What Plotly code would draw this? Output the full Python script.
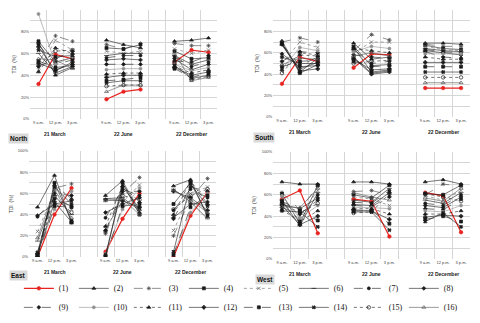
import plotly.graph_objects as go

# x slots: 0-2 = 21 March, 4-6 = 22 June, 8-10 = 22 December (3 and 7 blank)
times = ["9 a.m.", "12 p.m.", "3 p.m."]
dates = ["21 March", "22 June", "22 December"]
series_names = [f"({i})" for i in range(1, 17)]

# TDI (%) per series, [9 a.m., 12 p.m., 3 p.m.]
north_mar = [[32, 59, 55], [70, 40, 47], [52, 76, 71], [71, 52, 56], [45, 72, 63], [60, 42, 48],
             [68, 50, 54], [51, 45, 50], [48, 55, 62], [96, 50, 57], [43, 65, 60], [66, 44, 52],
             [53, 47, 49], [63, 57, 58], [49, 62, 63], [55, 54, 46]]
north_jun = [[18, 25, 27], [72, 68, 65], [68, 64, 69], [65, 64, 68], [62, 60, 62], [58, 60, 60],
             [56, 58, 58], [54, 55, 54], [50, 50, 50], [45, 46, 46], [41, 42, 42], [38, 40, 40],
             [35, 36, 38], [33, 35, 35], [30, 31, 31], [25, 31, 31]]
north_dec = [[52, 63, 61], [71, 72, 74], [69, 67, 67], [62, 55, 56], [64, 60, 63], [58, 50, 54],
             [57, 48, 52], [55, 45, 50], [53, 52, 58], [50, 44, 47], [48, 42, 45], [47, 40, 43],
             [46, 38, 42], [49, 37, 40], [51, 36, 39], [60, 35, 38]]

south_mar = [[31, 56, 52], [71, 42, 55], [70, 74, 70], [69, 41, 49], [50, 70, 65], [67, 45, 51],
             [68, 48, 56], [59, 47, 48], [52, 61, 60], [45, 65, 62], [44, 58, 57], [68, 43, 45],
             [47, 52, 53], [56, 50, 50], [41, 60, 58], [49, 55, 54]]
south_jun = [[46, 59, 58], [69, 54, 56], [62, 77, 72], [65, 42, 44], [60, 70, 70], [56, 41, 43],
             [63, 50, 52], [55, 40, 42], [58, 56, 55], [61, 66, 64], [64, 62, 60], [54, 44, 45],
             [52, 47, 48], [66, 48, 49], [50, 52, 53], [57, 60, 57]]
south_dec = [[27, 27, 27], [69, 69, 68], [68, 66, 66], [67, 64, 63], [66, 63, 62], [64, 62, 61],
             [63, 61, 60], [62, 60, 58], [61, 56, 55], [59, 59, 59], [56, 54, 54], [51, 51, 51],
             [47, 47, 47], [42, 42, 42], [37, 37, 37], [32, 32, 32]]

east_mar = [[0, 40, 65], [47, 77, 32], [2, 65, 69], [0, 70, 34], [24, 62, 45], [15, 58, 40],
            [38, 55, 48], [39, 50, 53], [3, 60, 58], [5, 45, 62], [1, 68, 55], [2, 52, 33],
            [0, 48, 47], [4, 66, 50], [3, 57, 42], [18, 63, 37]]
east_jun = [[5, 36, 60], [58, 72, 42], [22, 60, 75], [0, 70, 40], [27, 52, 68], [55, 56, 44],
            [37, 64, 58], [42, 50, 56], [25, 62, 62], [3, 45, 65], [29, 67, 52], [54, 53, 47],
            [1, 48, 50], [2, 66, 46], [24, 58, 54], [53, 55, 40]]
east_dec = [[0, 39, 61], [67, 73, 38], [20, 55, 74], [50, 70, 40], [25, 60, 66], [64, 52, 36],
            [44, 64, 56], [37, 50, 52], [36, 66, 62], [3, 42, 60], [40, 72, 50], [62, 56, 44],
            [2, 47, 58], [5, 69, 48], [45, 58, 64], [63, 54, 42]]

west_mar = [[56, 64, 24], [72, 70, 70], [62, 46, 68], [61, 33, 69], [57, 40, 64], [55, 31, 62],
            [53, 36, 60], [51, 47, 57], [48, 42, 55], [59, 38, 50], [46, 35, 45], [50, 32, 40],
            [54, 45, 36], [45, 44, 30], [52, 43, 52], [49, 48, 66]]
west_jun = [[56, 54, 21], [72, 72, 70], [63, 64, 60], [60, 57, 69], [58, 56, 50], [55, 53, 66],
            [53, 52, 64], [51, 50, 62], [50, 49, 58], [48, 48, 47], [47, 47, 42], [46, 45, 37],
            [45, 45, 33], [44, 44, 27], [43, 44, 61], [62, 58, 55]]
west_dec = [[62, 59, 25], [72, 74, 70], [60, 70, 68], [61, 60, 69], [59, 55, 64], [55, 52, 62],
            [52, 50, 60], [50, 48, 58], [47, 46, 56], [45, 44, 50], [42, 42, 45], [39, 41, 40],
            [37, 40, 35], [35, 43, 30], [61, 58, 54], [57, 54, 66]]

# line style per series: (color, dash, marker symbol, marker size)
styles = [
    ("#e8231f", "solid", "circle", 3.5),
    ("#1a1a1a", "solid", "triangle-up", 3.5),
    ("#444444", "dash", "asterisk-open", 3.5),
    ("#1a1a1a", "solid", "square", 3),
    ("#666666", "dot", "x-thin-open", 3.5),
    ("#1a1a1a", "solid", "line-ew-open", 3.5),
    ("#1a1a1a", "dash", "circle", 3),
    ("#1a1a1a", "solid", "diamond", 3),
    ("#1a1a1a", "dash", "diamond", 3),
    ("#909090", "solid", "circle", 3),
    ("#1a1a1a", "dot", "triangle-up", 3.5),
    ("#1a1a1a", "solid", "cross", 3),
    ("#1a1a1a", "dash", "square", 3),
    ("#1a1a1a", "solid", "x", 3),
    ("#1a1a1a", "dot", "circle-open", 3.5),
    ("#555555", "solid", "triangle-up-open", 3.5),
]

# page body keeps an 8px margin, so the figure is 8px smaller each way
panels = [
    ("North", [north_mar, north_jun, north_dec], "x", "y", [0.0466, 0.4428], [0.6476, 0.995]),
    ("South", [south_mar, south_jun, south_dec], "x2", "y2", [0.5614, 0.9788], [0.654, 0.9937]),
    ("East", [east_mar, east_jun, east_dec], "x3", "y3", [0.0445, 0.4407], [0.2095, 0.546]),
    ("West", [west_mar, west_jun, west_dec], "x4", "y4", [0.5614, 0.9788], [0.2032, 0.5429]),
]

x_slots = list(range(11))
fig = go.Figure()

for p, (name, groups, xa, ya, xdom, ydom) in enumerate(panels):
    for s in range(16):
        color, dash, sym, msize = styles[s]
        y = groups[0][s] + [None] + groups[1][s] + [None] + groups[2][s]
        fig.add_trace(go.Scatter(
            x=x_slots, y=y, xaxis=xa, yaxis=ya, mode="lines+markers",
            name=series_names[s], showlegend=(p == 0), legendrank=s,
            line=dict(color=color, dash=dash, width=1.2 if s == 0 else 0.6),
            marker=dict(symbol=sym, size=msize, color=color, line=dict(color=color, width=0.7)),
        ))

axis_font = dict(family="Liberation Sans", size=4, color="#404040")
annotations = []
layout_axes = {}
for p, (name, groups, xa, ya, xdom, ydom) in enumerate(panels):
    xkey = "xaxis" if xa == "x" else "xaxis" + xa[1:]
    ykey = "yaxis" if ya == "y" else "yaxis" + ya[1:]
    layout_axes[xkey] = dict(
        domain=xdom, anchor=ya, range=[-0.5, 10.5], automargin=False,
        tickvals=[0, 1, 2, 4, 5, 6, 8, 9, 10], ticktext=times * 3,
        tickfont=axis_font, showgrid=False, zeroline=False, ticks="", tickangle=0,
        minor=dict(tickvals=[i - 0.5 for i in range(12)], showgrid=True, gridcolor="#d6d6d6", gridwidth=0.8),
    )
    layout_axes[ykey] = dict(
        domain=ydom, anchor=xa, range=[0, 100], automargin=False,
        tickvals=[0, 20, 40, 60, 80, 100], ticktext=["0%", "20%", "40%", "60%", "80%", "100%"],
        tickfont=axis_font, showgrid=True, gridcolor="#d6d6d6", gridwidth=0.8, zeroline=False,
        minor=dict(tickvals=[10, 30, 50, 70, 90], showgrid=True, gridcolor="#d6d6d6", gridwidth=0.8),
        title=dict(text="TDI  (%)", font=dict(family="Liberation Sans", size=5, color="#333333"), standoff=4),
    )
    for d, cx in zip(dates, [1, 5, 9]):
        annotations.append(dict(
            text=f"<b>{d}</b>", x=cx, xref=xa, y=ydom[0] - 0.047, yref="paper",
            showarrow=False, yanchor="middle", font=dict(family="Liberation Sans", size=5, color="#222222"),
        ))

label_pos = {"North": (0.0, 0.587), "South": (0.519, 0.590), "East": (0.002, 0.152), "West": (0.523, 0.137)}
for name, (lx, ly) in label_pos.items():
    annotations.append(dict(
        text=f"<b>{name}</b>", x=lx, y=ly, xref="paper", yref="paper", xanchor="left", yanchor="middle",
        showarrow=False, bgcolor="#d9d9d9", borderpad=1,
        font=dict(family="Liberation Sans", size=6.5, color="#111111"),
    ))

fig.update_layout(
    width=472, height=315,
    margin=dict(l=0, r=0, t=0, b=0),
    paper_bgcolor="white", plot_bgcolor="white",
    annotations=annotations,
    legend=dict(
        orientation="h", x=0.023, y=0.156, xanchor="left", yanchor="top",
        entrywidth=10, entrywidthmode="pixels", itemwidth=30, tracegroupgap=0,
        font=dict(family="Liberation Serif", size=8, color="#111111"),
        bgcolor="rgba(0,0,0,0)",
    ),
    **layout_axes,
)

fig.write_html("out.html")
